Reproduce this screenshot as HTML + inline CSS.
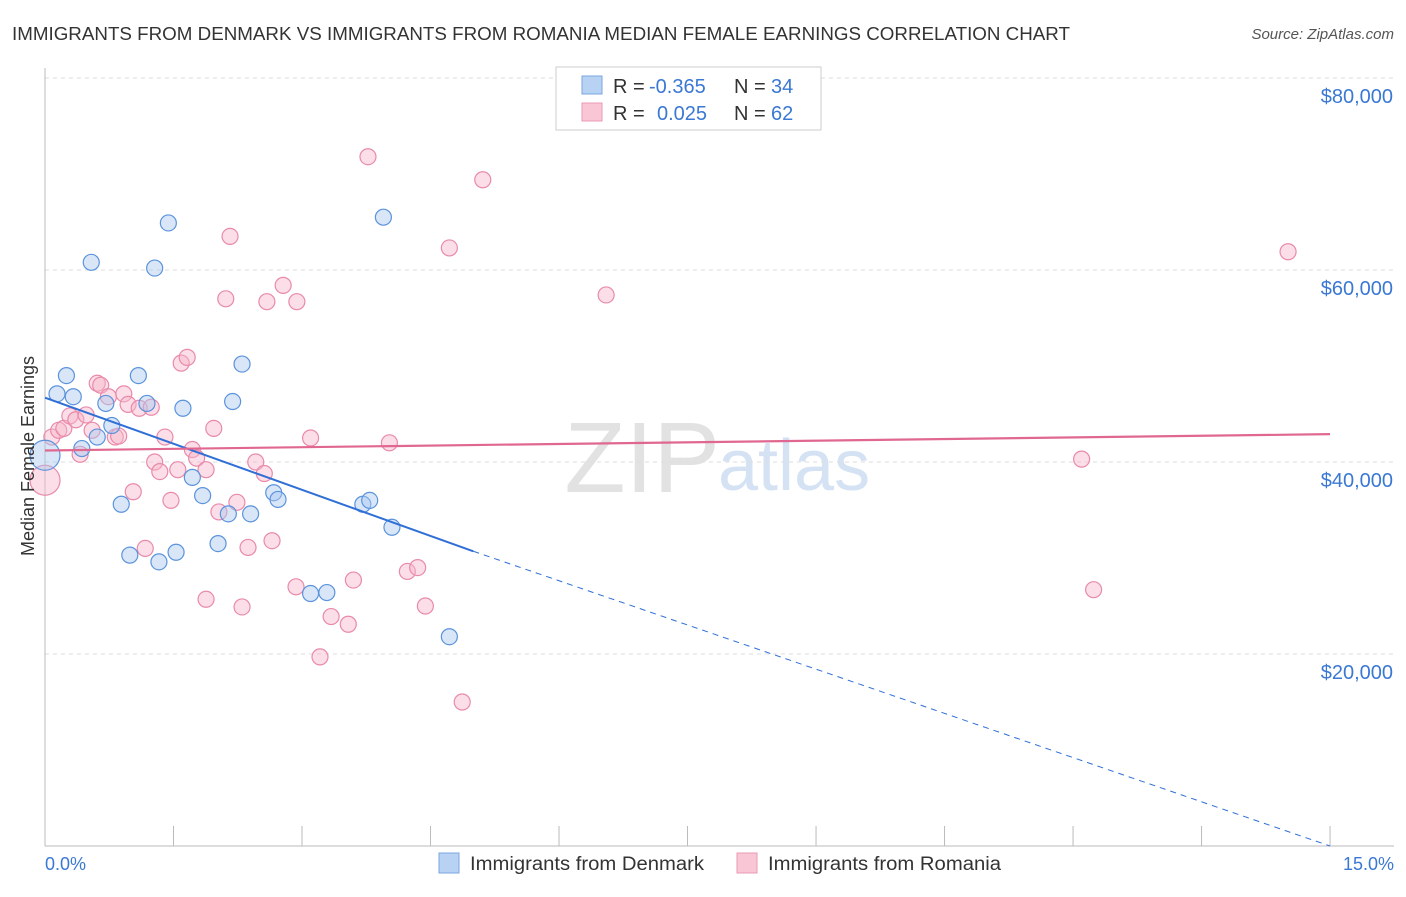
<!DOCTYPE html>
<html><head><meta charset="utf-8"><style>
body{margin:0;background:#fff;font-family:"Liberation Sans",sans-serif;}
svg text{font-family:"Liberation Sans",sans-serif;}
</style></head><body>
<svg width="1406" height="892">
<text x="12" y="40" font-size="18" fill="#333" textLength="1058" lengthAdjust="spacingAndGlyphs">IMMIGRANTS FROM DENMARK VS IMMIGRANTS FROM ROMANIA MEDIAN FEMALE EARNINGS CORRELATION CHART</text>
<text x="1394" y="39" font-size="15" fill="#555" font-style="italic" text-anchor="end">Source: ZipAtlas.com</text>
<text x="720" y="492" font-size="100" fill="#e2e2e2" text-anchor="end" font-family="Liberation Serif">ZIP</text>
<text x="718" y="490" font-size="72" fill="#d4e2f4">atlas</text>
<g id="grid"></g><g id="axes"></g><g id="marks"></g>
<text x="34" y="456" font-size="18" fill="#333" text-anchor="middle" transform="rotate(-90 34 456)">Median Female Earnings</text>
<text x="45" y="870" font-size="18" fill="#3a78d4">0.0%</text>
<text x="1394" y="870" font-size="18" fill="#3a78d4" text-anchor="end">15.0%</text>
<g>
<rect x="556" y="67" width="265" height="63" fill="#fff" stroke="#ccc"/>
<rect x="582" y="76" width="20" height="18" fill="#b8d2f4" stroke="#7aa6e0"/>
<rect x="582" y="103" width="20" height="18" fill="#f9c6d6" stroke="#eb9ab4"/>
<text x="613" y="93" font-size="20" fill="#333">R =</text>
<text x="649" y="93" font-size="20" fill="#3a78d4">-0.365</text>
<text x="734" y="93" font-size="20" fill="#333">N =</text>
<text x="771" y="93" font-size="20" fill="#3a78d4">34</text>
<text x="613" y="120" font-size="20" fill="#333">R =</text>
<text x="657" y="120" font-size="20" fill="#3a78d4">0.025</text>
<text x="734" y="120" font-size="20" fill="#333">N =</text>
<text x="771" y="120" font-size="20" fill="#3a78d4">62</text>
</g>
<g>
<rect x="439" y="853" width="20" height="20" fill="#b8d2f4" stroke="#7aa6e0"/>
<text x="470" y="870" font-size="19" fill="#333" textLength="234" lengthAdjust="spacingAndGlyphs">Immigrants from Denmark</text>
<rect x="737" y="853" width="20" height="20" fill="#f9c6d6" stroke="#eb9ab4"/>
<text x="768" y="870" font-size="19" fill="#333" textLength="233" lengthAdjust="spacingAndGlyphs">Immigrants from Romania</text>
</g>
</svg>
<script>
const yTicks=[20000,40000,60000,80000];
const yTickLabels=["$20,000","$40,000","$60,000","$80,000"];
const xTicks=[0,1.5,3,4.5,6,7.5,9,10.5,12,13.5,15];
const denX=[0,0.14,0.25,0.33,0.43,0.54,0.61,0.71,0.78,0.89,0.99,1.09,1.19,1.28,1.33,1.44,1.53,1.61,1.72,1.84,2.02,2.14,2.19,2.30,2.40,2.67,2.72,3.10,3.29,3.71,3.79,3.95,4.05,4.72];
const denY=[40700,47100,49000,46800,41400,60800,42600,46100,43800,35600,30300,49000,46100,60200,29600,64900,30600,45600,38400,36500,31500,34600,46300,50200,34600,36800,36100,26300,26400,35600,36000,65500,33200,21800];
const romX=[0,0.08,0.16,0.22,0.29,0.36,0.41,0.48,0.55,0.61,0.65,0.74,0.82,0.86,0.92,0.97,1.03,1.10,1.17,1.24,1.28,1.34,1.40,1.47,1.55,1.59,1.66,1.72,1.77,1.88,1.88,1.97,2.03,2.11,2.16,2.24,2.30,2.37,2.46,2.56,2.59,2.65,2.78,2.93,2.94,3.10,3.21,3.34,3.54,3.60,3.77,4.02,4.23,4.35,4.44,4.72,4.87,5.11,6.55,12.10,12.24,14.51];
const romY=[38100,42600,43300,43500,44800,44400,40800,44900,43300,48200,48000,46800,42600,42700,47100,46000,36900,45600,31000,45700,40000,39000,42600,36000,39200,50300,50900,41300,40400,39200,25700,43500,34800,57000,63500,35800,24900,31100,40000,38800,56700,31800,58400,27000,56700,42500,19700,23900,23100,27700,71800,42000,28600,29000,25000,62300,15000,69400,57400,40300,26700,61900];
const denTrend=[[0,46700],[5,30700],[15,0]];
const romTrend=[[0,41200],[15,42900]];
const NS="http://www.w3.org/2000/svg";
const X=v=>45+v*85.67, Y=v=>846-v*0.0096;
function mk(t,a,p){const e=document.createElementNS(NS,t);for(const k in a)e.setAttribute(k,a[k]);document.getElementById(p).appendChild(e);return e;}
yTicks.forEach((t,i)=>{
 const g=mk('line',{x1:45,x2:1394,y1:Y(t),y2:Y(t),stroke:'#ddd','stroke-dasharray':'4,4'},'grid');
 
 
 const l=mk('text',{x:1393,y:Y(t)+25,'font-size':20,fill:'#3a78d4','text-anchor':'end'},'grid');
 l.textContent=yTickLabels[i];
 
 
});
mk('line',{x1:45,x2:1394,y1:846,y2:846,stroke:'#bbb'},'axes');
mk('line',{x1:45,x2:45,y1:68,y2:846,stroke:'#bbb'},'axes');
xTicks.forEach(t=>{const e=mk('line',{x1:X(t),x2:X(t),y1:826,y2:846,stroke:'#bbb'},'axes');
 
 });
function dots(xs,ys,fill,stroke,name){xs.forEach((x,i)=>{const r=i===0?15:8;
 const c=mk('circle',{cx:X(x),cy:Y(ys[i]),r:r,fill:fill,'fill-opacity':0.45,stroke:stroke,'stroke-width':1.2},'marks');
 
 });}
dots(romX,romY,'#f7b6ca','#e98aaa','romania-point');
dots(denX,denY,'#a9c8f0','#5b93dc','denmark-point');
let l1=mk('line',{x1:X(denTrend[0][0]),y1:Y(denTrend[0][1]),x2:X(denTrend[1][0]),y2:Y(denTrend[1][1]),stroke:'#2f6fd6','stroke-width':2},'marks');


let l2=mk('line',{x1:X(denTrend[1][0]),y1:Y(denTrend[1][1]),x2:X(denTrend[2][0]),y2:Y(denTrend[2][1]),stroke:'#2f6fd6','stroke-width':1,'stroke-dasharray':'6,5'},'marks');


let l3=mk('line',{x1:X(romTrend[0][0]),y1:Y(romTrend[0][1]),x2:X(romTrend[1][0]),y2:Y(romTrend[1][1]),stroke:'#e06890','stroke-width':2.2},'marks');


</script>
</body></html>
